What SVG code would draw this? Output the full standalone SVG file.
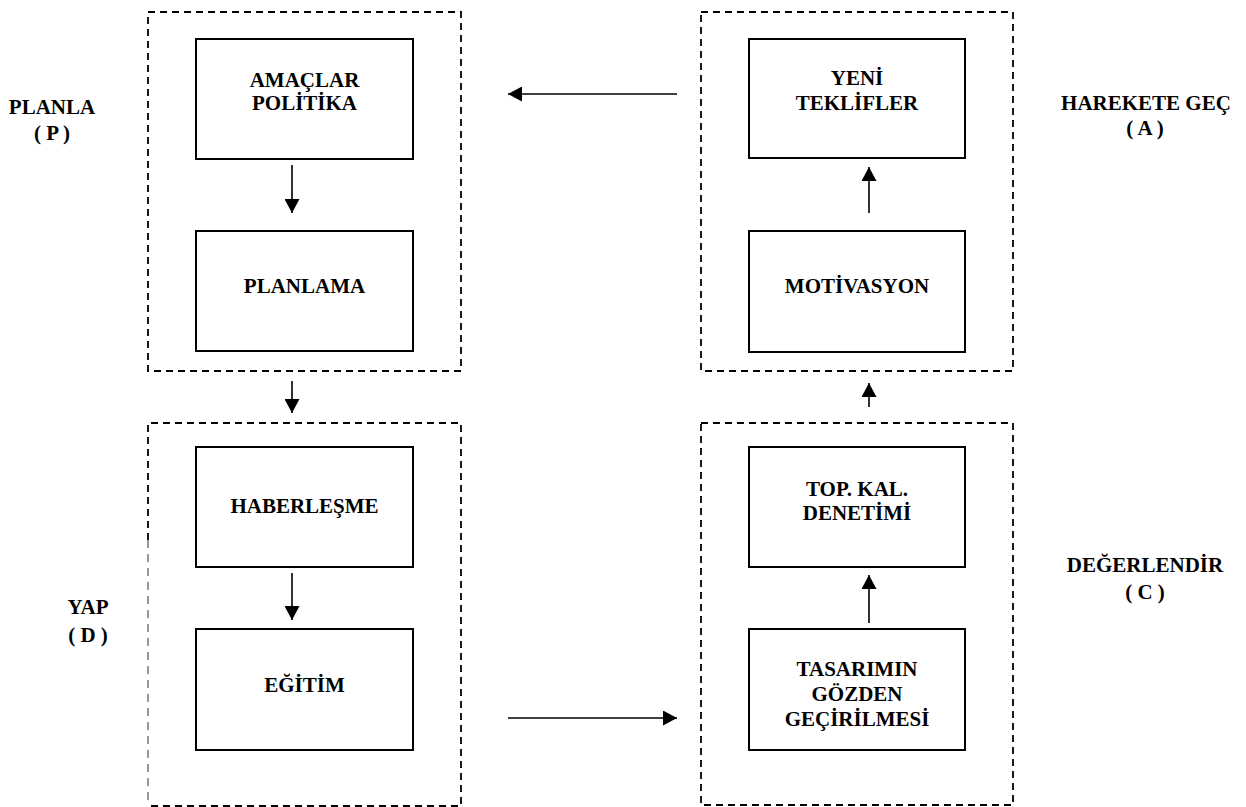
<svg xmlns="http://www.w3.org/2000/svg" width="1246" height="807" viewBox="0 0 1246 807">
  <defs>
    <marker id="arrowhead" viewBox="0 0 14 15" refX="14" refY="7.5" markerWidth="14" markerHeight="15" markerUnits="userSpaceOnUse" orient="auto">
      <path d="M0,0 L14,7.5 L0,15 Z" fill="#000"/>
    </marker>
  </defs>
  <style>
    .stage { fill: none; stroke: #000; stroke-width: 1.8; stroke-dasharray: 7 5; }
    .stage-thin { fill: none; stroke: #444; stroke-width: 1.1; stroke-dasharray: 8 6; }
    .box { fill: #fff; stroke: #000; stroke-width: 2; }
    .lbl { font-family: "Liberation Serif", "Times New Roman", serif; font-weight: bold; font-size: 21px; fill: #000; text-anchor: middle; }
    .link { fill: none; stroke: #000; stroke-width: 1.6; marker-end: url(#arrowhead); }
  </style>
  <rect width="1246" height="807" fill="#fff"/>

  <!-- PDCA stage frames -->
  <g id="stage-plan">
    <rect class="stage" x="148" y="12" width="313" height="359"/>
    <text class="lbl" x="52" y="114">PLANLA</text>
    <text class="lbl" x="52" y="140">( P )</text>
  </g>
  <g id="stage-do">
    <path class="stage" d="M148,540 L148,423 L461,423 L461,806 L148,806"/>
    <path class="stage-thin" d="M148,540 L148,806"/>
    <text class="lbl" x="88" y="614">YAP</text>
    <text class="lbl" x="88" y="642">( D )</text>
  </g>
  <g id="stage-act">
    <rect class="stage" x="701" y="12" width="312" height="359"/>
    <text class="lbl" x="1146" y="110">HAREKETE GEÇ</text>
    <text class="lbl" x="1145" y="135">( A )</text>
  </g>
  <g id="stage-check">
    <rect class="stage" x="701" y="423" width="312" height="382"/>
    <text class="lbl" x="1145" y="572">DEĞERLENDİR</text>
    <text class="lbl" x="1145" y="599">( C )</text>
  </g>

  <!-- Activity boxes -->
  <g id="amaclar">
    <rect class="box" x="196" y="39" width="217" height="120"/>
    <text class="lbl" x="304.5" y="87">AMAÇLAR</text>
    <text class="lbl" x="304.5" y="110">POLİTİKA</text>
  </g>
  <g id="planlama">
    <rect class="box" x="196" y="231" width="217" height="120"/>
    <text class="lbl" x="304.5" y="293">PLANLAMA</text>
  </g>
  <g id="haberlesme">
    <rect class="box" x="196" y="447" width="217" height="120"/>
    <text class="lbl" x="304.5" y="513">HABERLEŞME</text>
  </g>
  <g id="egitim">
    <rect class="box" x="196" y="629" width="217" height="121"/>
    <text class="lbl" x="304.5" y="692">EĞİTİM</text>
  </g>
  <g id="yeni-teklifler">
    <rect class="box" x="749" y="39" width="216" height="119"/>
    <text class="lbl" x="857" y="85">YENİ</text>
    <text class="lbl" x="857" y="110">TEKLİFLER</text>
  </g>
  <g id="motivasyon">
    <rect class="box" x="749" y="231" width="216" height="121"/>
    <text class="lbl" x="857" y="293">MOTİVASYON</text>
  </g>
  <g id="top-kal-denetimi">
    <rect class="box" x="749" y="447" width="216" height="120"/>
    <text class="lbl" x="857" y="496">TOP. KAL.</text>
    <text class="lbl" x="857" y="520">DENETİMİ</text>
  </g>
  <g id="tasarim">
    <rect class="box" x="749" y="629" width="216" height="121"/>
    <text class="lbl" x="857" y="676">TASARIMIN</text>
    <text class="lbl" x="857" y="701">GÖZDEN</text>
    <text class="lbl" x="857" y="726">GEÇİRİLMESİ</text>
  </g>

  <!-- Connectors -->
  <g id="connectors">
    <line class="link" x1="292" y1="165" x2="292" y2="213"/>
    <line class="link" x1="292" y1="381" x2="292" y2="413"/>
    <line class="link" x1="292" y1="573" x2="292" y2="620"/>
    <line class="link" x1="508" y1="718" x2="677" y2="718"/>
    <line class="link" x1="869" y1="623" x2="869" y2="575"/>
    <line class="link" x1="869" y1="407" x2="869" y2="383"/>
    <line class="link" x1="869" y1="213" x2="869" y2="167"/>
    <line class="link" x1="677" y1="94" x2="508" y2="94"/>
  </g>
</svg>
